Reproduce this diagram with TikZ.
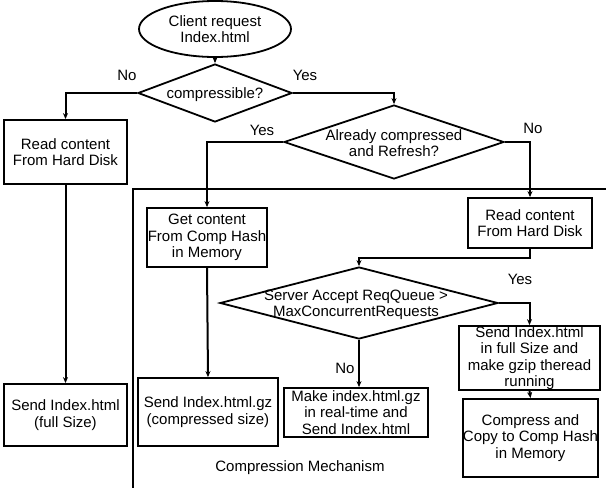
\documentclass[tikz,border=0pt]{standalone}
\usepackage{fontspec}
\setmainfont{Liberation Sans}
\usetikzlibrary{shapes.geometric,arrows.meta}
\begin{document}
\begin{tikzpicture}[x=1pt,y=-1pt,
  every node/.style={font=\fontsize{15}{16.5}\selectfont},
  box/.style={draw,line width=1.8pt,align=center,inner sep=0pt,rectangle},
  dia/.style={draw,line width=1.8pt,diamond,inner sep=0pt},
  txt/.style={align=center,inner sep=0pt},
  arr/.style={line width=2pt,-{Stealth[length=6pt,width=5pt]}},
  ln/.style={line width=1.8pt}]
\useasboundingbox (0,0) rectangle (606,488);
% frame of compression mechanism
\draw[ln] (133,488) -- (133,189) -- (606,189);
% nodes
\node[draw,line width=1.8pt,ellipse,inner sep=0pt,minimum width=152pt,minimum height=56pt,align=center] (start) at (215,29) {Client request\\Index.html};
\node[dia,minimum width=154pt,minimum height=58pt] (d1) at (215,93) {};
\node[txt] (d1t) at (215,95) {compressible?};
\node[box,minimum width=123pt,minimum height=64pt] (L1) at (65.5,152) {Read content\\From Hard Disk};
\node[box,minimum width=123pt,minimum height=62pt] (L2) at (65.5,415) {Send Index.html\\(full Size)};
\node[dia,minimum width=220pt,minimum height=74pt] (d2) at (394,142) {};
\node[txt] (d2t) at (394,143) {Already compressed\\and Refresh?};
\node[box,minimum width=120pt,minimum height=59pt] (M1) at (207,237.5) {Get content\\From Comp Hash\\in Memory};
\node[box,minimum width=124pt,minimum height=50pt] (R1) at (530,223) {Read content\\From Hard Disk};
\node[dia,minimum width=278pt,minimum height=72pt] (d3) at (359,303) {};
\node[txt] (d3t) at (356,305) {Server Accept ReqQueue >\\MaxConcurrentRequests};
\node[box,minimum width=140pt,minimum height=68pt] (M2) at (208,412) {Send Index.html.gz\\(compressed size)};
\node[box,minimum width=144pt,minimum height=49pt] (M3) at (356,412.5) {Make index.html.gz\\in real-time and\\Send Index.html};
\node[box,minimum width=141pt,minimum height=64pt] (R2) at (529.5,358) {Send Index.html\\in full Size and\\make gzip theread\\running};
\node[box,minimum width=135pt,minimum height=78pt] (R3) at (530.5,438) {Compress and\\Copy to Comp Hash\\in Memory};
% labels
\node[txt] (lno1) at (127,75) {No};
\node[txt] (lyes1) at (305,75) {Yes};
\node[txt] (lyes2) at (262,130) {Yes};
\node[txt] (lno2) at (533,128) {No};
\node[txt] (lyes3) at (520,279) {Yes};
\node[txt] (lno3) at (345,368) {No};
\node[txt] (title) at (300,468) {Compression Mechanism};
% connectors
\draw[arr] (start.south) -- (d1.north);
\draw[arr] (d1.west) -| (L1.north);
\draw[arr] (d1.east) -| (d2.north);
\draw[arr] (L1.south) -- (L2.north);
\draw[arr] (d2.west) -| (M1.north);
\draw[arr] (d2.east) -| (R1.north);
\draw[arr] (M1.south) -- (M2.north);
\draw[arr] (R1.south) -- ++(0,9) -| (d3.north);
\draw[arr] (d3.east) -| (R2.north);
\draw[arr] (d3.south) -- (d3.south |- M3.north);
\draw[arr] (R2.south) -- (R3.north);
\end{tikzpicture}
\end{document}
